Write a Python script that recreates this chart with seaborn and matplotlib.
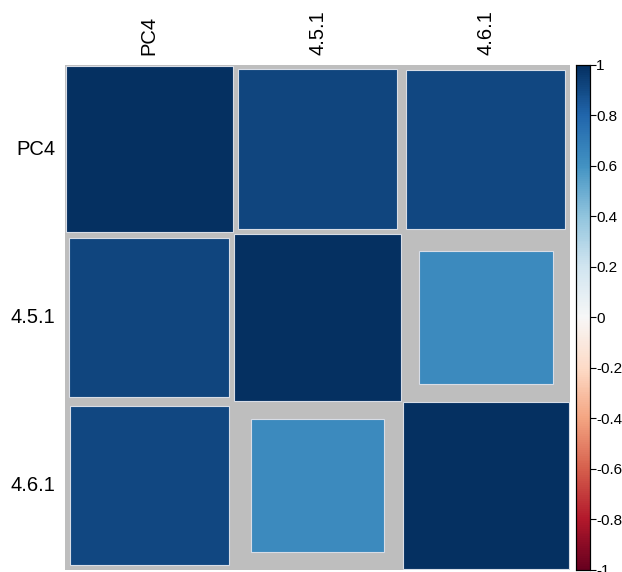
import numpy as np
import pandas as pd
import matplotlib
matplotlib.use("Agg")
import matplotlib.pyplot as plt
import seaborn as sns
from matplotlib.patches import Rectangle

# correlation values
labels = ["PC4", "4.5.1", "4.6.1"]
row_pc4 = [1.00, 0.92, 0.91]
row_451 = [0.92, 1.00, 0.64]
row_461 = [0.91, 0.64, 1.00]
cbar_ticks = [-1, -0.8, -0.6, -0.4, -0.2, 0, 0.2, 0.4, 0.6, 0.8, 1]

corr = pd.DataFrame([row_pc4, row_451, row_461], index=labels, columns=labels)

sns.set_style("white")
plt.rcParams["font.family"] = ["Liberation Sans", "DejaVu Sans"]
plt.rcParams["text.color"] = "black"
plt.rcParams["xtick.color"] = "black"
plt.rcParams["ytick.color"] = "black"

fig = plt.figure(figsize=(6.22, 5.72), dpi=100)
ax = fig.add_axes([0.1045, 0.0035, 0.812, 0.883])
cax = fig.add_axes([0.926, 0.0035, 0.0225, 0.883])

cmap = plt.get_cmap("RdBu")
sns.heatmap(corr, cmap=cmap, vmin=-1, vmax=1, ax=ax, cbar_ax=cax,
            square=False, linewidths=0)
ax.collections[0].set_visible(False)
ax.set_facecolor("#BEBEBE")

# squares sized by sqrt(|r|), like corrplot method="square"
for i, row in enumerate(labels):
    for j, col in enumerate(labels):
        r = corr.loc[row, col]
        side = np.sqrt(abs(r)) * 0.99
        ax.add_patch(Rectangle((j + 0.5 - side / 2, i + 0.5 - side / 2), side, side,
                               facecolor=cmap((r + 1) / 2), edgecolor="#d8dde6",
                               linewidth=0.8))

ax.xaxis.tick_top()
ax.set_xticklabels(labels, rotation=90, fontsize=14.5, color="black")
ax.set_yticklabels(labels, rotation=0, fontsize=14.5, color="black")
ax.tick_params(length=0, pad=7)
ax.set_xlabel("")
ax.set_ylabel("")
for s in ax.spines.values():
    s.set_visible(False)

cax.set_yticks(cbar_ticks)
cax.set_yticklabels([f"{t:g}" for t in cbar_ticks], fontsize=11, color="black")
cax.tick_params(length=4, width=0.8, direction="out", pad=0.5, colors="black")
for s in cax.spines.values():
    s.set_visible(True)
    s.set_color("black")
    s.set_linewidth(0.8)

fig.savefig("out.png", dpi=100)
